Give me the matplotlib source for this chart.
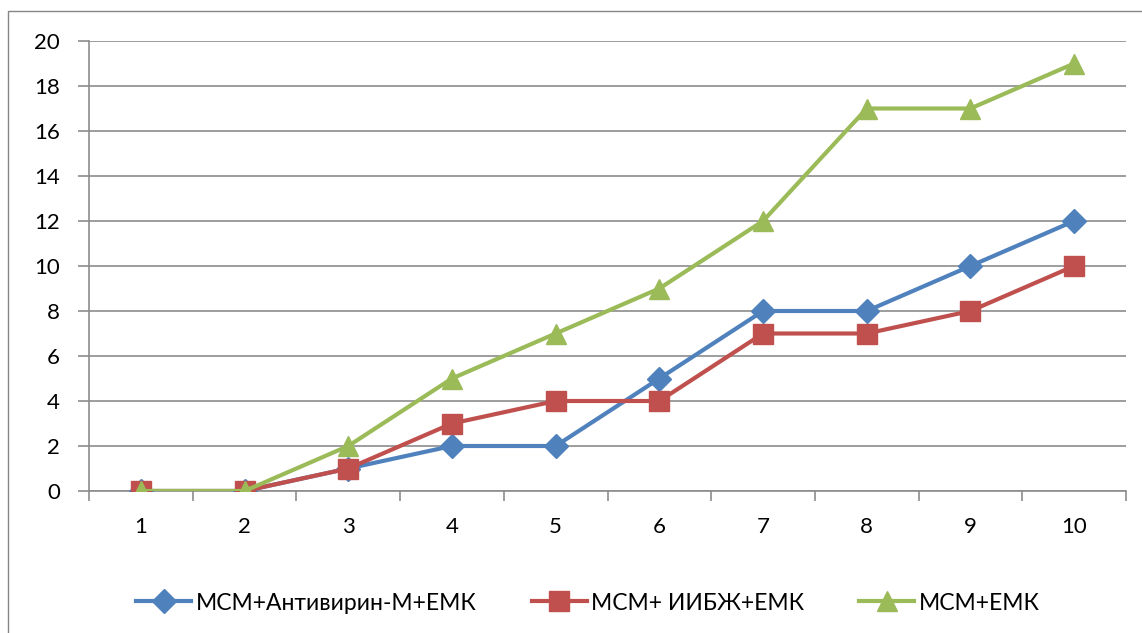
import matplotlib
matplotlib.use("Agg")
import matplotlib.pyplot as plt
from matplotlib.patches import Rectangle

categories = [1, 2, 3, 4, 5, 6, 7, 8, 9, 10]
series_names = ["МСМ+Антивирин-М+ЕМК", "МСМ+ ИИБЖ+ЕМК", "МСМ+ЕМК"]
blue_vals = [0, 0, 1, 2, 2, 5, 8, 8, 10, 12]
red_vals = [0, 0, 1, 3, 4, 4, 7, 7, 8, 10]
green_vals = [0, 0, 2, 5, 7, 9, 12, 17, 17, 19]
y_ticks = [0, 2, 4, 6, 8, 10, 12, 14, 16, 18, 20]

plt.rcParams['font.family'] = ['Lato', 'DejaVu Sans']

W, H = 1142, 633
fig = plt.figure(figsize=(W / 100, H / 100), dpi=100)

# outer chart border
fig.patches.append(Rectangle((8 / W, 0 - 0.01), 1.05, (H - 11) / H + 0.01,
                             transform=fig.transFigure, fill=False,
                             edgecolor='#868686', linewidth=1.0))

left, right, top, bottom = 89, 1126, 41, 491
ax = fig.add_axes([left / W, 1 - bottom / H, (right - left) / W, (bottom - top) / H])

x = list(range(len(categories)))
ax.plot(x, blue_vals, color='#4F81BD', lw=3, marker='D', ms=12,
        mfc='#4F81BD', mec='#4F81BD', label=series_names[0], zorder=3)
ax.plot(x, red_vals, color='#C0504D', lw=3, marker='s', ms=14,
        mfc='#C0504D', mec='#C0504D', label=series_names[1], zorder=4)
ax.plot(x, green_vals, color='#9BBB59', lw=3, marker='^', ms=14,
        mfc='#9BBB59', mec='#9BBB59', label=series_names[2], zorder=5)

ax.set_xlim(-0.5, len(categories) - 0.5)
ax.set_ylim(0, 20)
ax.set_yticks(y_ticks)
ax.set_yticklabels([str(v) for v in y_ticks], fontsize=16)
ax.yaxis.grid(True, color='#8C8C8C', lw=1.2)
ax.set_axisbelow(True)

ax.set_xticks(x)
ax.set_xticklabels([str(c) for c in categories], fontsize=16)
ax.set_xticks([i - 0.5 for i in range(len(categories) + 1)], minor=True)
ax.tick_params(axis='x', which='major', length=0, pad=19)
ax.tick_params(axis='x', which='minor', length=7, color='#8C8C8C', width=1.2)
ax.tick_params(axis='y', length=8, color='#8C8C8C', width=1.2, pad=13)

for s in ['top', 'right']:
    ax.spines[s].set_visible(False)
ax.spines['left'].set_color('#8C8C8C')
ax.spines['bottom'].set_color('#8C8C8C')
ax.spines['left'].set_linewidth(1.2)
ax.spines['bottom'].set_linewidth(1.2)

leg = fig.legend(loc='center', bbox_to_anchor=(0.515, 1 - 603 / H), ncol=3,
                 frameon=False, fontsize=16.5, handlelength=2.4,
                 columnspacing=2.4, handletextpad=0.2, markerscale=1.0)

fig.savefig("out.png", dpi=100)
